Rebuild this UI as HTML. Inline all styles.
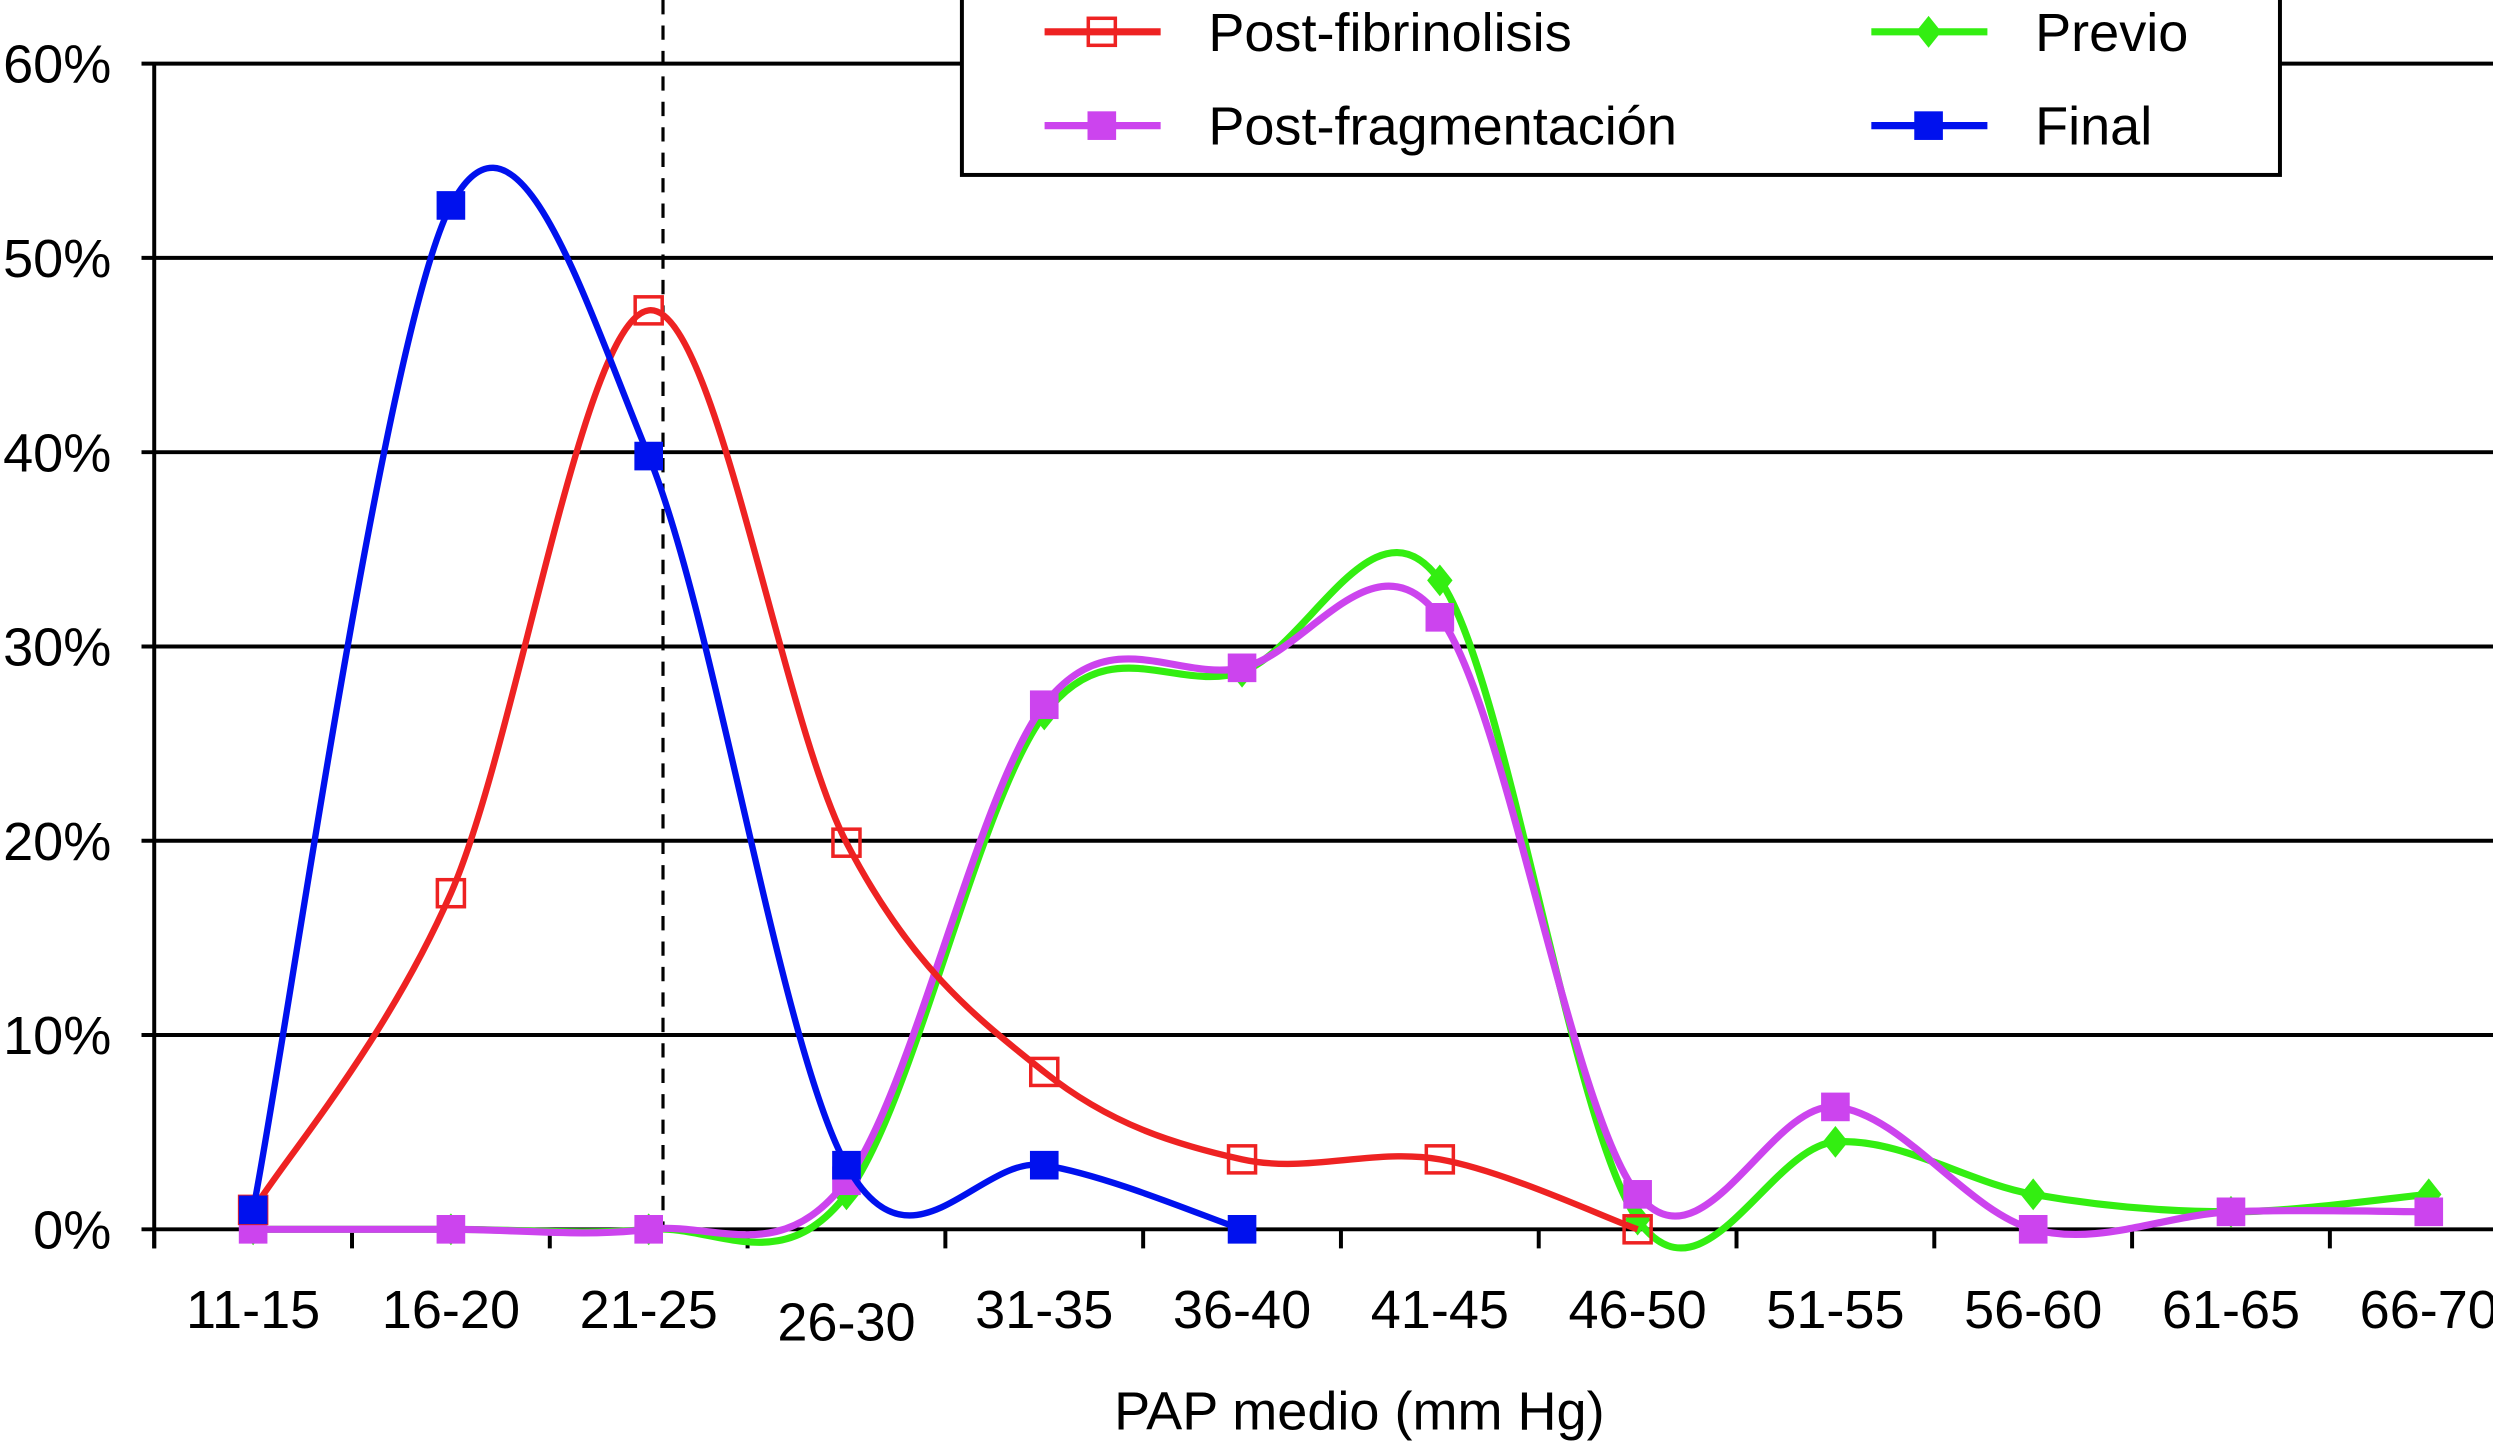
<!DOCTYPE html>
<html><head><meta charset="utf-8"><style>
html,body{margin:0;padding:0;background:#fff;}
svg{display:block;}
text{font-family:"Liberation Sans",sans-serif;fill:#000;}
</style></head><body>
<svg id="chart" width="2493" height="1444" viewBox="0 0 1568 908" preserveAspectRatio="none" xmlns="http://www.w3.org/2000/svg">
<g id="grid"></g>
<g id="axes"></g>
<g id="series"></g>
<g id="legend"></g>
</svg>
<script>
const categories = ["11-15","16-20","21-25","26-30","31-35","36-40","41-45","46-50","51-55","56-60","61-65","66-70"];
const yTicks = [0,10,20,30,40,50,60];
const postFibrinolisis = [1,17.3,47.3,19.9,8.1,3.6,3.6,0];
const finalVals = [1,52.7,39.8,3.3,3.3,0];
const postFragmentacion = [0,0,0,2.5,27,28.9,31.5,1.8,6.3,0,0.9,0.9];
const previo = [0,0,0,1.8,26.5,28.7,33.4,0.5,4.5,1.8,0.9,1.8];

const NS="http://www.w3.org/2000/svg";
const X0=97, STEP=124.4, Y0=773, Y60=40;
const FS=34;
function xs(i){return X0+STEP*(i+0.5);}
function ys(v){return Y0-(Y0-Y60)*v/60;}
function mk(tag,attrs,parent){const e=document.createElementNS(NS,tag);for(const k in attrs)e.setAttribute(k,attrs[k]);parent.appendChild(e);return e;}
const grid=document.getElementById('grid'),axes=document.getElementById('axes'),series=document.getElementById('series'),legend=document.getElementById('legend');

yTicks.forEach(t=>{
  const l=mk('line',{x1:89,x2:1568,y1:ys(t),y2:ys(t),stroke:'#000','stroke-width':2.5},grid);
  
  
  const tx=mk('text',{x:70,y:ys(t)+12,'text-anchor':'end','font-size':FS},axes);
  tx.textContent=t+'%';
  
  
});
const ya=mk('line',{x1:97,x2:97,y1:ys(60),y2:Y0+12,stroke:'#000','stroke-width':2.5},axes);


for(let i=0;i<=categories.length;i++){
  const tk=mk('line',{x1:X0+STEP*i,x2:X0+STEP*i,y1:Y0,y2:Y0+12,stroke:'#000','stroke-width':2.5},axes);
  
  
}
categories.forEach((c,i)=>{
  const tx=mk('text',{x:xs(i),y:(i===3?843:835),'text-anchor':'middle','font-size':FS},axes);
  tx.textContent=c;
  
  
});
const xt=mk('text',{x:855,y:899,'text-anchor':'middle','font-size':FS},axes);
xt.textContent='PAP medio (mm Hg)';


const dl=mk('line',{x1:417,x2:417,y1:0,y2:Y0,stroke:'#000','stroke-width':2,'stroke-dasharray':'9,7'},axes);



function smooth(vals){
  const p=vals.map((v,i)=>[xs(i),ys(v)]);
  let d='M'+p[0][0]+','+p[0][1];
  for(let i=0;i<p.length-1;i++){
    const p0=p[Math.max(0,i-1)],p1=p[i],p2=p[i+1],p3=p[Math.min(p.length-1,i+2)];
    const c1=[p1[0]+(p2[0]-p0[0])/6,p1[1]+(p2[1]-p0[1])/6];
    const c2=[p2[0]-(p3[0]-p1[0])/6,p2[1]-(p3[1]-p1[1])/6];
    d+=' C'+c1[0]+','+c1[1]+' '+c2[0]+','+c2[1]+' '+p2[0]+','+p2[1];
  }
  return d;
}
function marker(shape,color,cx,cy,parent,name){
  let e;
  if(shape==='open'){e=mk('rect',{x:cx-8.5,y:cy-8.5,width:17,height:17,fill:'none',stroke:color,'stroke-width':2.2},parent);}
  else if(shape==='diamond'){e=mk('polygon',{points:`${cx},${cy-10} ${cx+8},${cy} ${cx},${cy+10} ${cx-8},${cy}`,fill:color},parent);}
  else {e=mk('rect',{x:cx-9,y:cy-9,width:18,height:18,fill:color},parent);}
  
  
}
function drawSeries(vals,color,shape,name,w){
  const g=mk('g',{},series);
  
  
  const p=mk('path',{d:smooth(vals),fill:'none',stroke:color,'stroke-width':w},g);
  
  
  vals.forEach((v,i)=>marker(shape,color,xs(i),ys(v),g,name+'-point-'+categories[i]));
}
drawSeries(previo,'#33ee11','diamond','previo',4.5);
drawSeries(postFragmentacion,'#cc44ee','filled','post-fragmentacion',4.5);
drawSeries(postFibrinolisis,'#ee2222','open','post-fibrinolisis',4);
drawSeries(finalVals,'#0011ee','filled','final',4);

const box=mk('rect',{x:605,y:-5,width:829,height:115,fill:'#fff',stroke:'#000','stroke-width':2.5},legend);


const entries=[['Post-fibrinolisis','#ee2222','open',657,20],['Post-fragmentación','#cc44ee','filled',657,79],['Previo','#33ee11','diamond',1177,20],['Final','#0011ee','filled',1177,79]];
entries.forEach(([lab,col,sh,x,y])=>{
  const g=mk('g',{},legend);
  
  
  const l=mk('line',{x1:x,x2:x+73,y1:y,y2:y,stroke:col,'stroke-width':4.5},g);
  
  
  marker(sh,col,x+36,y,g,'legend-marker');
  const t=mk('text',{x:x+103,y:y+12,'font-size':FS},g);
  t.textContent=lab;
  
  
});
</script>
</body></html>
